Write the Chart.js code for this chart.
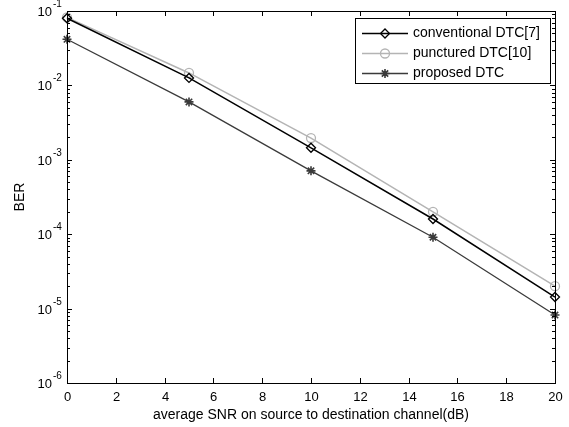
<!DOCTYPE html>
<html>
<head>
<meta charset="utf-8">
<script src="https://cdn.jsdelivr.net/npm/chart.js@4/dist/chart.umd.min.js"></script>
<style>
html,body{margin:0;padding:0;background:#fff;}
#wrap{width:569px;height:427px;position:relative;}
</style>
</head>
<body>
<div id="wrap"><canvas id="c" width="569" height="427"></canvas></div>
<script>
const snr = [0, 5, 10, 15, 20];
const conventional = [0.080, 0.0126, 0.00145, 1.6e-4, 1.43e-5];
const punctured = [0.082, 0.0147, 0.00196, 2.0e-4, 2.0e-5];
const proposed = [0.0417, 0.0060, 0.00071, 9.1e-5, 8.2e-6];
const seriesNames = ['conventional DTC[7]', 'punctured DTC[10]', 'proposed DTC'];
const xTicks = [0, 2, 4, 6, 8, 10, 12, 14, 16, 18, 20];
const yExponents = [-6, -5, -4, -3, -2, -1];
const xTitle = 'average SNR on source to destination channel(dB)';
const yTitle = 'BER';

const FONT = '"Liberation Sans", Arial, sans-serif';

const toPts = arr => arr.map((v, i) => ({x: snr[i], y: v}));

function drawMarker(ctx, ds, x, y) {
  ctx.save();
  ctx.strokeStyle = ds.pointBorderColor;
  ctx.fillStyle = 'rgba(0,0,0,0)';
  ctx.lineWidth = ds.pointBorderWidth;
  Chart.helpers.drawPoint(ctx, {pointStyle: ds.pointStyle, radius: ds.pointRadius, borderWidth: ds.pointBorderWidth, rotation: 0}, x, y);
  ctx.restore();
}

const axesPlugin = {
  id: 'matlabAxes',
  afterDraw(chart) {
    const ctx = chart.ctx;
    const a = chart.chartArea;
    const xs = chart.scales.x, ys = chart.scales.y;
    ctx.save();
    ctx.strokeStyle = '#000';
    ctx.lineWidth = 1;
    ctx.strokeRect(Math.round(a.left) + 0.5, Math.round(a.top) + 0.5, Math.round(a.right - a.left), Math.round(a.bottom - a.top));
    // x ticks
    ctx.fillStyle = '#000';
    ctx.font = '13px ' + FONT;
    ctx.textAlign = 'center';
    ctx.textBaseline = 'middle';
    xTicks.forEach(t => {
      const px = Math.round(xs.getPixelForValue(t)) + 0.5;
      ctx.beginPath();
      ctx.moveTo(px, a.bottom); ctx.lineTo(px, a.bottom - 5);
      ctx.moveTo(px, a.top); ctx.lineTo(px, a.top + 5);
      ctx.stroke();
      ctx.fillText(String(t), px, a.bottom + 14);
    });
    // y ticks
    yExponents.forEach(e => {
      const major = Math.pow(10, e);
      const py = Math.round(ys.getPixelForValue(major)) + 0.5;
      ctx.beginPath();
      ctx.moveTo(a.left, py); ctx.lineTo(a.left + 5, py);
      ctx.moveTo(a.right, py); ctx.lineTo(a.right - 5, py);
      ctx.stroke();
      if (e < -1) {
        for (let k = 2; k <= 9; k++) {
          const my = Math.round(ys.getPixelForValue(k * major)) + 0.5;
          ctx.beginPath();
          ctx.moveTo(a.left, my); ctx.lineTo(a.left + 3, my);
          ctx.moveTo(a.right, my); ctx.lineTo(a.right - 3, my);
          ctx.stroke();
        }
      }
      ctx.font = '13px ' + FONT;
      ctx.textAlign = 'right';
      ctx.textBaseline = 'middle';
      ctx.fillText('10', a.left - 15, py + 1);
      ctx.font = '10px ' + FONT;
      ctx.textAlign = 'left';
      ctx.fillText(String(e), a.left - 14, py - 7);
    });
    // titles
    ctx.font = '14px ' + FONT;
    ctx.textAlign = 'center';
    ctx.textBaseline = 'middle';
    ctx.fillText(xTitle, (a.left + a.right) / 2, a.bottom + 32);
    ctx.save();
    ctx.translate(20, (a.top + a.bottom) / 2);
    ctx.rotate(-Math.PI / 2);
    ctx.fillText(yTitle, 0, 0);
    ctx.restore();

    // legend
    const lx = 355, ly = 18, lw = 195, lh = 65;
    ctx.fillStyle = '#fff';
    ctx.fillRect(lx, ly, lw, lh);
    ctx.strokeStyle = '#000';
    ctx.lineWidth = 1;
    ctx.strokeRect(lx + 0.5, ly + 0.5, lw, lh);
    chart.data.datasets.forEach((ds, i) => {
      const y = ly + 15 + i * 20 + 0.5;
      ctx.strokeStyle = ds.borderColor;
      ctx.lineWidth = ds.borderWidth;
      ctx.beginPath();
      ctx.moveTo(lx + 7, y); ctx.lineTo(lx + 53, y);
      ctx.stroke();
      drawMarker(ctx, ds, lx + 30, y);
      ctx.fillStyle = '#000';
      ctx.font = '14px ' + FONT;
      ctx.textAlign = 'left';
      ctx.textBaseline = 'middle';
      ctx.fillText(seriesNames[i], lx + 58, y);
    });
    ctx.restore();
  }
};

new Chart(document.getElementById('c'), {
  type: 'line',
  data: {
    datasets: [
      {label: seriesNames[0], data: toPts(conventional), borderColor: '#000000', borderWidth: 1.5,
       pointStyle: 'rectRot', pointRadius: 4.5, pointBorderColor: '#000000', pointBackgroundColor: 'rgba(0,0,0,0)', pointBorderWidth: 1.3},
      {label: seriesNames[1], data: toPts(punctured), borderColor: '#b4b4b4', borderWidth: 1.5,
       pointStyle: 'circle', pointRadius: 4.5, pointBorderColor: '#b4b4b4', pointBackgroundColor: 'rgba(0,0,0,0)', pointBorderWidth: 1.3},
      {label: seriesNames[2], data: toPts(proposed), borderColor: '#3a3a3a', borderWidth: 1.3,
       pointStyle: 'star', pointRadius: 4.5, pointBorderColor: '#3a3a3a', pointBackgroundColor: 'rgba(0,0,0,0)', pointBorderWidth: 1.6}
    ]
  },
  options: {
    responsive: false,
    animation: false,
    clip: false,
    layout: {padding: {left: 67, right: 14, top: 11, bottom: 44}},
    plugins: {legend: {display: false}, tooltip: {enabled: false}},
    elements: {line: {tension: 0}},
    scales: {
      x: {type: 'linear', min: 0, max: 20, display: false},
      y: {type: 'logarithmic', min: 1e-6, max: 1e-1, display: false}
    }
  },
  plugins: [axesPlugin]
});
</script>
</body>
</html>
